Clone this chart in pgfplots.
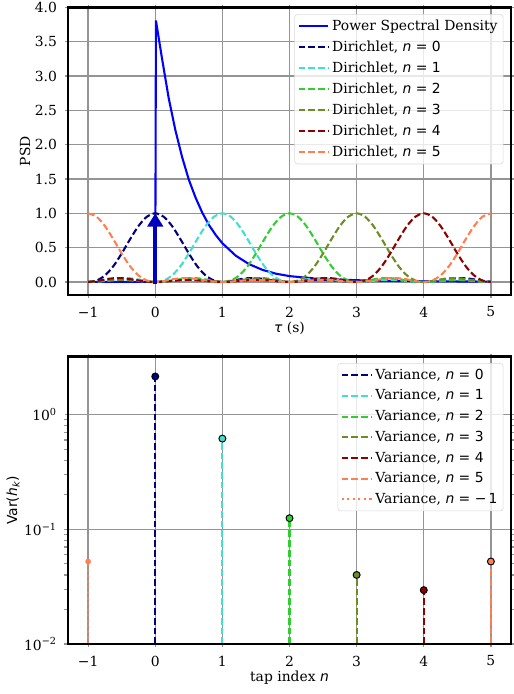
\documentclass[border=0pt]{standalone}
\usepackage{fontspec}
\setmainfont{DejaVu Serif}
\newfontfamily\dvs{DejaVu Sans}
\usepackage{pgfplots}
\pgfplotsset{compat=1.18}
\usepackage{pgfplotstable}
\usetikzlibrary{arrows.meta}
\definecolor{cNavy}{HTML}{000080}
\definecolor{cTurq}{HTML}{40E0D0}
\definecolor{cLime}{HTML}{32CD32}
\definecolor{cOlive}{HTML}{6B8E23}
\definecolor{cDRed}{HTML}{8B0000}
\definecolor{cCoral}{HTML}{FF7F50}
\definecolor{cBlue}{HTML}{0000FF}
\definecolor{cArrow}{HTML}{0000C0}

% Dirichlet kernels, one column per tap
\pgfplotstableread{
x      n0    n1    n2    n3    n4    n5
-1     0     0     0     0     0     1
-0.875 0.021 0.006 0.004 0.005 0.013 0.951
-0.75  0.095 0.022 0.014 0.016 0.037 0.815
-0.625 0.229 0.041 0.025 0.026 0.054 0.623
-0.5   0.415 0.056 0.030 0.030 0.056 0.415
-0.375 0.623 0.054 0.026 0.025 0.041 0.229
-0.25  0.815 0.037 0.016 0.014 0.022 0.095
-0.125 0.951 0.013 0.005 0.004 0.006 0.021
0      1     0     0     0     0     0
0.125  0.951 0.021 0.006 0.004 0.005 0.013
0.25   0.815 0.095 0.022 0.014 0.016 0.037
0.375  0.623 0.229 0.041 0.025 0.026 0.054
0.5    0.415 0.415 0.056 0.030 0.030 0.056
0.625  0.229 0.623 0.054 0.026 0.025 0.041
0.75   0.095 0.815 0.037 0.016 0.014 0.022
0.875  0.021 0.951 0.013 0.005 0.004 0.006
1      0     1     0     0     0     0
1.125  0.013 0.951 0.021 0.006 0.004 0.005
1.25   0.037 0.815 0.095 0.022 0.014 0.016
1.375  0.054 0.623 0.229 0.041 0.025 0.026
1.5    0.056 0.415 0.415 0.056 0.030 0.030
1.625  0.041 0.229 0.623 0.054 0.026 0.025
1.75   0.022 0.095 0.815 0.037 0.016 0.014
1.875  0.006 0.021 0.951 0.013 0.005 0.004
2      0     0     1     0     0     0
2.125  0.005 0.013 0.951 0.021 0.006 0.004
2.25   0.016 0.037 0.815 0.095 0.022 0.014
2.375  0.026 0.054 0.623 0.229 0.041 0.025
2.5    0.030 0.056 0.415 0.415 0.056 0.030
2.625  0.025 0.041 0.229 0.623 0.054 0.026
2.75   0.014 0.022 0.095 0.815 0.037 0.016
2.875  0.004 0.006 0.021 0.951 0.013 0.005
3      0     0     0     1     0     0
3.125  0.004 0.005 0.013 0.951 0.021 0.006
3.25   0.014 0.016 0.037 0.815 0.095 0.022
3.375  0.025 0.026 0.054 0.623 0.229 0.041
3.5    0.030 0.030 0.056 0.415 0.415 0.056
3.625  0.026 0.025 0.041 0.229 0.623 0.054
3.75   0.016 0.014 0.022 0.095 0.815 0.037
3.875  0.005 0.004 0.006 0.021 0.951 0.013
4      0     0     0     0     1     0
4.125  0.006 0.004 0.005 0.013 0.951 0.021
4.25   0.022 0.014 0.016 0.037 0.815 0.095
4.375  0.041 0.025 0.026 0.054 0.623 0.229
4.5    0.056 0.030 0.030 0.056 0.415 0.415
4.625  0.054 0.026 0.025 0.041 0.229 0.623
4.75   0.037 0.016 0.014 0.022 0.095 0.815
4.875  0.013 0.005 0.004 0.006 0.021 0.951
5      0     0     0     0     0     1
}\dirichlet

% power spectral density
\pgfplotstableread{
x     psd
-1    0
0     0
0.01  3.81
0.1   3.26
0.2   2.68
0.3   2.21
0.4   1.82
0.5   1.49
0.6   1.23
0.7   1.01
0.8   0.83
0.9   0.685
1.0   0.564
1.2   0.382
1.4   0.258
1.6   0.175
1.8   0.120
2.0   0.085
2.2   0.066
2.4   0.050
2.6   0.040
3.0   0.025
3.5   0.015
4.0   0.010
4.5   0.007
5.0   0.005
}\psd

\pgfplotsset{
  panel/.style={
    scale only axis, width=319pt, height=207pt,
    xmin=-1.3, xmax=5.3,
    xtick={-1,0,1,2,3,4,5},
    xticklabels={−1,0,1,2,3,4,5},
    grid=major, grid style={black!42, line width=0.95pt},
    axis line style={black, line width=2pt},
    tick align=outside, major tick length=2pt,
    tick style={black!42, line width=0.9pt},
    minor tick num=0,
    tick label style={font=\fontsize{10}{12}\selectfont},
    label style={font=\fontsize{10}{12}\selectfont},
    xticklabel shift=3pt, yticklabel shift=2.5pt,
    /pgf/number format/assume math mode=true,
    legend cell align=left,
    legend image code/.code={\draw[#1] (0pt,0pt) -- (21.5pt,0pt);},
    legend style={at={(1,1)}, anchor=north east, xshift=-5.5pt, yshift=-4.8pt,
      draw=black!15, rounded corners=2pt, fill=white, fill opacity=0.8,
      text opacity=1, font=\fontsize{10}{12}\selectfont,
      inner xsep=2pt, inner ysep=2.5pt, row sep=3pt,
      nodes={inner ysep=1.5pt},
      /tikz/every even column/.append style={column sep=3pt}},
    after end axis/.code={\draw[black, line width=2pt]
      (rel axis cs:0,0) rectangle (rel axis cs:1,1);},
  },
  dir/.style={dash pattern=on 4.8pt off 2.2pt, line width=1.5pt},
}

\begin{document}
\begin{tikzpicture}
% top: PSD and Dirichlet kernels
\begin{axis}[panel, at={(48.96pt,287.3pt)}, anchor=south west,
  ymin=-0.19, ymax=4.0,
  ytick={0,0.5,1,1.5,2,2.5,3,3.5,4},
  yticklabels={0.0,0.5,1.0,1.5,2.0,2.5,3.0,3.5,4.0},
  xlabel={{\dvs\itshape τ} (s)}, ylabel={PSD},
  xlabel style={at={(axis description cs:0.5,-0.115)}, anchor=center},
  ylabel style={at={(axis description cs:-0.097,0.5)}, anchor=center},
]
\addplot[cBlue, line width=1.5pt] table[x=x, y=psd] {\psd};
\addlegendentry{Power Spectral Density}
\addplot[cNavy, dir, smooth] table[x=x, y=n0] {\dirichlet};
\addlegendentry{Dirichlet, {\dvs\textit{n} = 0}}
\addplot[cTurq, dir, smooth] table[x=x, y=n1] {\dirichlet};
\addlegendentry{Dirichlet, {\dvs\textit{n} = 1}}
\addplot[cLime, dir, smooth] table[x=x, y=n2] {\dirichlet};
\addlegendentry{Dirichlet, {\dvs\textit{n} = 2}}
\addplot[cOlive, dir, smooth] table[x=x, y=n3] {\dirichlet};
\addlegendentry{Dirichlet, {\dvs\textit{n} = 3}}
\addplot[cDRed, dir, smooth] table[x=x, y=n4] {\dirichlet};
\addlegendentry{Dirichlet, {\dvs\textit{n} = 4}}
\addplot[cCoral, dir, smooth] table[x=x, y=n5] {\dirichlet};
\addlegendentry{Dirichlet, {\dvs\textit{n} = 5}}
% delta at tau = 0
\addplot[cArrow, line width=3pt, -{Triangle[length=9.5pt, width=11pt]}, forget plot]
  coordinates {(0,-0.03) (0,1.0)};
\end{axis}

% bottom: tap variances
\begin{axis}[panel, at={(48.96pt,36pt)}, anchor=south west,
  ymode=log, ymin=0.01, ymax=3.21,
  ytick={0.01,0.1,1},
  yticklabels={10\textsuperscript{−2},10\textsuperscript{−1},10\textsuperscript{0}},
  xlabel={tap index {\dvs\itshape n}},
  ylabel={{\dvs Var(\textit{h}\textsubscript{\textit{k}})}},
  xlabel style={at={(axis description cs:0.5,-0.118)}, anchor=center},
  ylabel style={at={(axis description cs:-0.124,0.5)}, anchor=center},
]
\addplot[cNavy, dir] coordinates {(0,0.01) (0,2.15)};
\addlegendentry{Variance, {\dvs\textit{n} = 0}}
\addplot[cTurq, dir] coordinates {(1,0.01) (1,0.618)};
\addlegendentry{Variance, {\dvs\textit{n} = 1}}
\addplot[cLime, dir] coordinates {(2,0.01) (2,0.125)};
\addlegendentry{Variance, {\dvs\textit{n} = 2}}
\addplot[cOlive, dir] coordinates {(3,0.01) (3,0.040)};
\addlegendentry{Variance, {\dvs\textit{n} = 3}}
\addplot[cDRed, dir] coordinates {(4,0.01) (4,0.0295)};
\addlegendentry{Variance, {\dvs\textit{n} = 4}}
\addplot[cCoral, dir] coordinates {(5,0.01) (5,0.0524)};
\addlegendentry{Variance, {\dvs\textit{n} = 5}}
\addplot[cCoral, line width=1.5pt, dash pattern=on 1.5pt off 2.5pt] coordinates {(-1,0.01) (-1,0.0524)};
\addlegendentry{Variance, {\dvs\textit{n} = −\,1}}
% markers
\addplot[only marks, mark=*, mark size=2.5pt, draw=black, line width=0.7pt, fill=cNavy, forget plot] coordinates {(0,2.15)};
\addplot[only marks, mark=*, mark size=2.5pt, draw=black, line width=0.7pt, fill=cTurq, forget plot] coordinates {(1,0.618)};
\addplot[only marks, mark=*, mark size=2.5pt, draw=black, line width=0.7pt, fill=cLime, forget plot] coordinates {(2,0.125)};
\addplot[only marks, mark=*, mark size=2.5pt, draw=black, line width=0.7pt, fill=cOlive, forget plot] coordinates {(3,0.040)};
\addplot[only marks, mark=*, mark size=2.5pt, draw=black, line width=0.7pt, fill=cDRed, forget plot] coordinates {(4,0.0295)};
\addplot[only marks, mark=*, mark size=2.5pt, draw=black, line width=0.7pt, fill=cCoral, forget plot] coordinates {(5,0.0524)};
\addplot[only marks, mark=*, mark size=1.8pt, draw=cCoral, fill=cCoral, forget plot] coordinates {(-1,0.0524)};
\end{axis}
\pgfresetboundingbox
\useasboundingbox (0,0) rectangle (369.4pt,499.7pt);
\end{tikzpicture}
\end{document}
